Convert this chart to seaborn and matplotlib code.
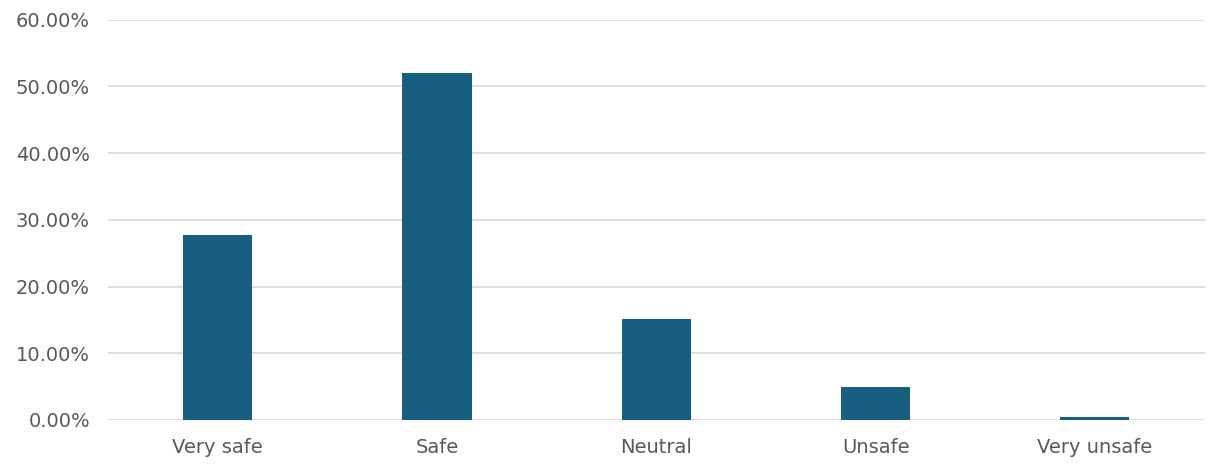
import matplotlib
matplotlib.use("Agg")
import matplotlib.pyplot as plt
import seaborn as sns
import pandas as pd
from matplotlib.ticker import FuncFormatter

categories = ['Very safe', 'Safe', 'Neutral', 'Unsafe', 'Very unsafe']
shares = [27.7, 52.0, 15.1, 4.9, 0.4]

df = pd.DataFrame({'category': categories, 'share': shares})

sns.set_style('white')
plt.rcParams['font.family'] = ['DejaVu Sans']

fig = plt.figure(figsize=(12.07, 4.75), dpi=100)
ax = fig.add_axes([0.0895, 0.1158, 0.9085, 0.843])

sns.barplot(data=df, x='category', y='share', color='#175E80', saturation=1,
            width=0.315, linewidth=0, ax=ax, zorder=3)

ax.set_ylim(0, 60)
ax.set_yticks(range(0, 61, 10))
ax.yaxis.set_major_formatter(FuncFormatter(lambda v, p: f'{v:.2f}%'))
ax.grid(axis='y', color='#D9D9D9', linewidth=1.2, zorder=0)
ax.set_axisbelow(True)
for s in ax.spines.values():
    s.set_visible(False)
ax.tick_params(axis='both', length=0, labelsize=14, labelcolor='#595959')
ax.tick_params(axis='y', pad=13)
ax.tick_params(axis='x', pad=13)
ax.set_xlabel('')
ax.set_ylabel('')

fig.savefig('out.png', dpi=100)
